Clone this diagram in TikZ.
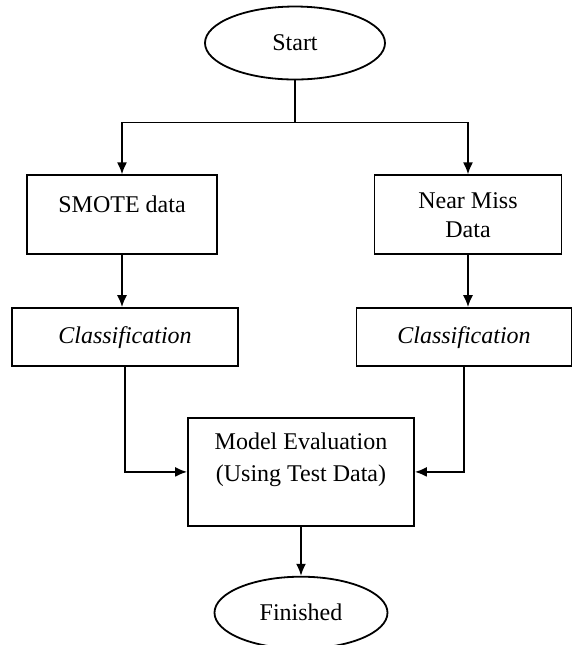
\documentclass[tikz,border=0pt]{standalone}
\usepackage{fontspec}
\setmainfont{Liberation Serif}
\usetikzlibrary{shapes.geometric,arrows.meta,positioning}
\newcommand\gapa{47pt}
\newcommand\gapb{26pt}
\newcommand\gapc{25pt}
\newcommand\gapd{24.5pt}
\newcommand\side{86.5pt}
\newcommand\fork{21pt}

\tikzset{
  terminal/.style={draw, ellipse, inner sep=0pt, font=\fontsize{12}{14.5}\selectfont},
  procbox/.style={draw, rectangle, inner sep=0pt, align=center, font=\fontsize{12}{14.5}\selectfont},
  flow/.style={->, line width=0.9pt},
  >={Latex[length=6pt,width=5pt]}
}

\begin{document}
\begin{tikzpicture}[x=0.5pt, y=-0.5pt, line width=0.9pt]
  \useasboundingbox (0,0) rectangle (573,645);
  \node[terminal, minimum width=90pt, minimum height=36.5pt] (start) at (295,43) {Start};
  \coordinate[below=\fork of start.south] (split);
  % data preparation
  \node[procbox, minimum width=95pt, minimum height=39.5pt, text height=8pt, text depth=10pt,
        below=\gapa of start.south, xshift=-\side] (smote) {SMOTE data};
  \node[procbox, minimum width=93.5pt, minimum height=39.5pt,
        below=\gapa of start.south, xshift=\side] (nearmiss) {Near Miss\\Data};
  % classifiers
  \node[procbox, minimum width=113pt, minimum height=29pt, below=\gapb of smote, xshift=1.5pt]
        (classa) {\textit{Classification}};
  \node[procbox, minimum width=107.5pt, minimum height=29pt, below=\gapb of nearmiss, xshift=-2pt]
        (classb) {\textit{Classification}};
  % evaluation
  \node[procbox, minimum width=113pt, minimum height=54pt, text height=28pt, text depth=18pt,
        font=\fontsize{12}{16}\selectfont, anchor=north, yshift=-\gapc, xshift=3pt]
        (model) at (start |- classa.south) {Model Evaluation\\(Using Test Data)};
  \node[terminal, minimum width=86.5pt, minimum height=36pt, below=\gapd of model]
        (finished) {Finished};

  \draw (start.south) -- (split);
  \draw[flow] (split) -| (smote.north);
  \draw[flow] (split) -| (nearmiss.north);
  \draw[flow] (smote) -- (smote |- classa.north);
  \draw[flow] (nearmiss) -- (nearmiss |- classb.north);
  \draw[flow] (classa.south) |- (model.west);
  \draw[flow] (classb.south) |- (model.east);
  \draw[flow] (model) -- (finished);
\end{tikzpicture}
\end{document}
